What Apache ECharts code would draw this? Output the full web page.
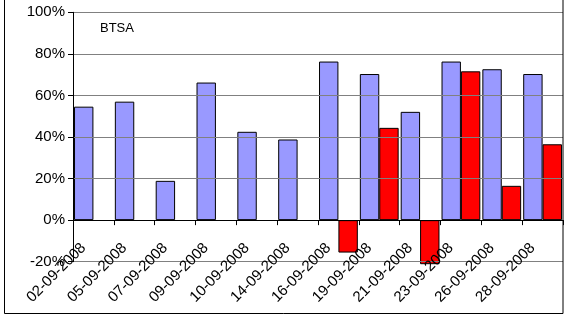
<!DOCTYPE html>
<html>
<head>
<meta charset="utf-8">
<script src="https://cdn.jsdelivr.net/npm/echarts@6/dist/echarts.min.js"></script>
<style>html,body{margin:0;padding:0;background:#fff}#c{width:566px;height:329px}</style>
</head>
<body>
<div id="c"></div>
<script>
var categories = ['02-09-2008','05-09-2008','07-09-2008','09-09-2008','10-09-2008','14-09-2008','16-09-2008','19-09-2008','21-09-2008','23-09-2008','26-09-2008','28-09-2008'];
var blueValues = [54.6, 57.0, 18.9, 66.2, 42.5, 38.8, 76.3, 70.3, 52.1, 76.3, 72.6, 70.3];
var redValues = [null, null, null, null, null, null, -15.6, 44.4, -21.2, 71.6, 16.5, 36.5];
var yTicks = {min: -20, max: 100, interval: 20};
var titleText = 'BTSA';

var chart = echarts.init(document.getElementById('c'), null, {renderer: 'canvas'});
var font = 'Liberation Sans, Arial, sans-serif';
chart.setOption({
  animation: false,
  backgroundColor: '#fff',
  grid: {left: 73, right: 3, top: 12.3, bottom: 67.3, containLabel: false, outerBoundsMode: 'none'},
  graphic: [
    {type: 'rect', shape: {x: 4.5, y: -2, width: 558.5, height: 315.5}, style: {fill: 'none', stroke: '#000', lineWidth: 1}, z: 100, silent: true},
    {type: 'text', left: 100, top: 22, style: {text: titleText, font: '13px ' + font, fill: '#000'}, z: 100}
  ],
  xAxis: {
    type: 'category',
    data: categories,
    z: 10,
    axisLine: {onZero: true, lineStyle: {color: '#000', width: 1}},
    axisTick: {show: true, length: 5, lineStyle: {color: '#000'}},
    axisLabel: {rotate: 45, fontSize: 15, fontFamily: font, color: '#000', margin: -26, padding: [0, 14, 0, 0], interval: 0},
    splitLine: {show: false}
  },
  yAxis: {
    type: 'value',
    min: yTicks.min, max: yTicks.max, interval: yTicks.interval,
    z: 10,
    axisLine: {show: true, lineStyle: {color: '#000', width: 1}},
    axisTick: {show: true, length: 5, lineStyle: {color: '#000'}},
    axisLabel: {formatter: '{value}%', fontSize: 15, fontFamily: font, color: '#000', margin: 8},
    splitLine: {show: true, lineStyle: {color: '#808080', width: 1}}
  },
  series: [
    {type: 'bar', data: blueValues, barGap: '0%', barCategoryGap: '5%', clip: false,
     itemStyle: {color: '#9999FF', borderColor: '#000', borderWidth: 1}},
    {type: 'bar', data: redValues, barGap: '0%', barCategoryGap: '5%', clip: false,
     itemStyle: {color: '#FF0000', borderColor: '#000', borderWidth: 1}}
  ]
});
</script>
</body>
</html>
